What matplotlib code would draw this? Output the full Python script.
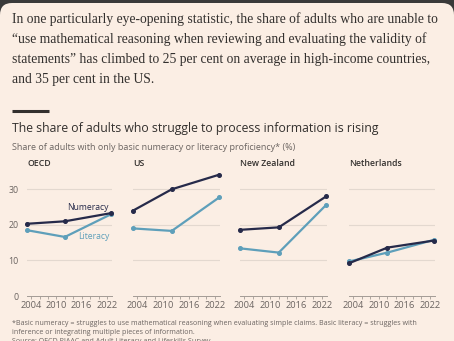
import matplotlib.pyplot as plt
from matplotlib.patches import FancyBboxPatch

# data
years = [2003, 2012, 2023]
countries = ["OECD", "US", "New Zealand", "Netherlands"]
numeracy = {
    "OECD": [20.3, 21.0, 23.3],
    "US": [24.0, 30.0, 34.1],
    "New Zealand": [18.6, 19.3, 28.0],
    "Netherlands": [9.2, 13.6, 15.6],
}
literacy = {
    "OECD": [18.5, 16.6, 23.0],
    "US": [19.0, 18.3, 27.7],
    "New Zealand": [13.4, 12.2, 25.6],
    "Netherlands": [9.7, 12.2, 15.8],
}
yticks = [0, 10, 20, 30]
xticks = [2004, 2010, 2016, 2022]

paragraph = [
    "In one particularly eye-opening statistic, the share of adults who are unable to",
    "\u201cuse mathematical reasoning when reviewing and evaluating the validity of",
    "statements\u201d has climbed to 25 per cent on average in high-income countries,",
    "and 35 per cent in the US.",
]
title = "The share of adults who struggle to process information is rising"
subtitle = "Share of adults with only basic numeracy or literacy proficiency* (%)"
footnote = [
    "*Basic numeracy = struggles to use mathematical reasoning when evaluating simple claims. Basic literacy = struggles with",
    "inference or integrating multiple pieces of information.",
    "Source: OECD PIAAC and Adult Literacy and Lifeskills Survey",
]

W, H = 454, 341
bg = "#fbeee4"
ink = "#33302e"
grey = "#6b6461"
num_col = "#262a4a"
lit_col = "#5e9fba"
grid_col = "#e3d8cf"
sans = ["Open Sans", "DejaVu Sans"]

fig = plt.figure(figsize=(W / 100, H / 100), dpi=100)
fig.patch.set_facecolor("#3a3a3a")

# background card with rounded top corners
bgax = fig.add_axes([0, 0, 1, 1])
bgax.set_xlim(0, W)
bgax.set_ylim(H, 0)
bgax.axis("off")
bgax.add_patch(FancyBboxPatch((0, 3), W, H + 20, boxstyle="round,pad=0,rounding_size=12",
                              facecolor=bg, edgecolor="none"))

# intro paragraph
for i, line in enumerate(paragraph):
    bgax.text(12, 22.7 + i * 20.2, line, fontsize=9.8, family="Liberation Serif",
              color=ink, va="baseline")

# short black rule
bgax.plot([12, 49], [111, 111], color=ink, lw=2.2, solid_capstyle="butt")

bgax.text(12, 132.3, title, fontsize=8.85, family=sans, color=ink, va="baseline")
bgax.text(12, 150, subtitle, fontsize=6.5, family=sans, color=grey, va="baseline")

for i, line in enumerate(footnote):
    bgax.text(12, 325 + i * 8.8, line, fontsize=5.15, family=sans, color=grey, va="baseline")

# panels
panel_x = [(27, 112), (133, 220), (240, 327), (349, 435)]
y0_px, ytop_px = 296, 171.5
for k, c in enumerate(countries):
    x0, x1 = panel_x[k]
    ax = fig.add_axes([x0 / W, (H - y0_px) / H, (x1 - x0) / W, (y0_px - ytop_px) / H])
    ax.set_facecolor("none")
    ax.set_xlim(2003, 2023.2)
    ax.set_ylim(0, 35)
    for s in ["top", "right", "left"]:
        ax.spines[s].set_visible(False)
    ax.spines["bottom"].set_color("#a39b95")
    ax.spines["bottom"].set_linewidth(0.7)
    for v in yticks[1:]:
        ax.axhline(v, color=grid_col, lw=0.8, zorder=0)
    ax.set_xticks(xticks)
    ax.set_xticklabels([str(x) for x in xticks], fontsize=6.7, family=sans, color=grey)
    ax.set_xticks(range(2004, 2024, 2), minor=True)
    ax.tick_params(axis="x", which="both", length=2.5, width=0.6, color="#a39b95", pad=1.2)
    ax.set_yticks(yticks)
    if k == 0:
        ax.set_yticklabels([str(v) for v in yticks], fontsize=6.4, family=sans, color=grey)
        ax.tick_params(axis="y", length=0, pad=6)
    else:
        ax.set_yticklabels([])
        ax.tick_params(axis="y", length=0)
    ax.plot(years, literacy[c], color=lit_col, lw=1.6, marker="o", ms=2.6, clip_on=False, zorder=3)
    ax.plot(years, numeracy[c], color=num_col, lw=1.6, marker="o", ms=2.6, clip_on=False, zorder=4)
    ax.text(0, 1.0 + (ytop_px - 166) / (y0_px - ytop_px), c, transform=ax.transAxes,
            fontsize=6.3, family=sans, fontweight="semibold", color=ink, va="baseline")
    if k == 0:
        ax.text(2022.5, 25.0, "Numeracy", fontsize=6.2, family=sans, color=num_col, ha="right", va="center")
        ax.text(2022.5, 16.8, "Literacy", fontsize=6.2, family=sans, color=lit_col, ha="right", va="center")

fig.savefig("out.png", dpi=100, facecolor=fig.get_facecolor())
